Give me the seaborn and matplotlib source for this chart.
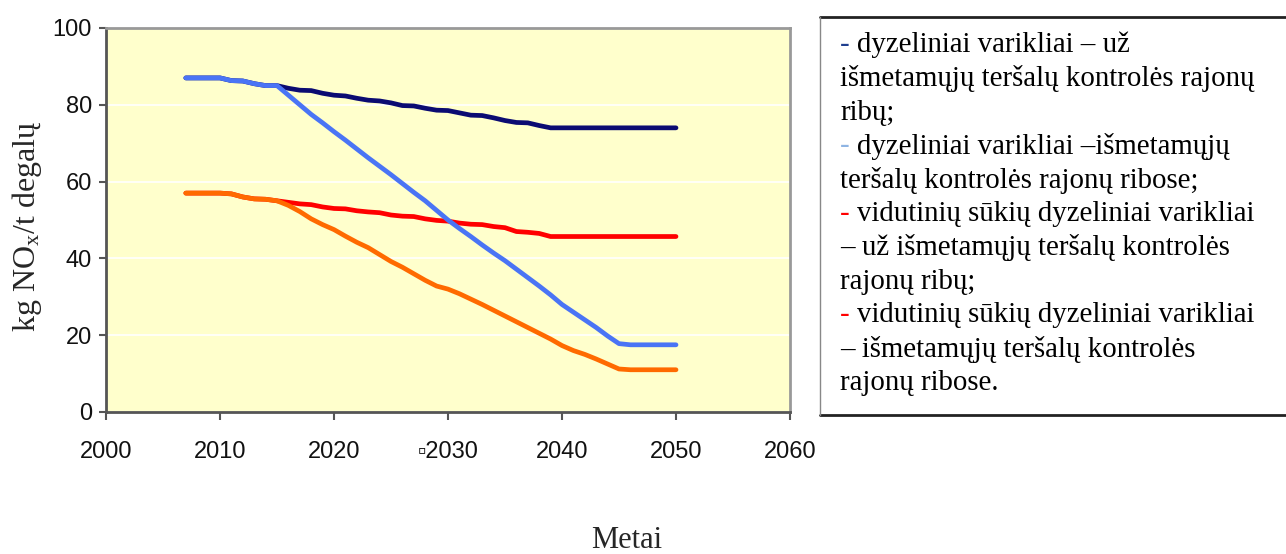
import numpy as np
import pandas as pd
import matplotlib
matplotlib.use("Agg")
import matplotlib.pyplot as plt
import seaborn as sns
from matplotlib.lines import Line2D

# ---------------- data ----------------
years = list(range(2007, 2051))

diesel_outside = [87, 87, 87, 87, 86.3, 86.2, 85.5, 85, 85, 84.3, 83.8, 83.7, 83, 82.5,
                  82.3, 81.7, 81.2, 81, 80.5, 79.8, 79.7, 79.1, 78.6, 78.5, 77.9, 77.3,
                  77.2, 76.6, 75.9, 75.4, 75.3, 74.6, 74] + [74] * 11
diesel_inside = [87, 87, 87, 87, 86.3, 86.2, 85.5, 85, 85, 82.5, 80, 77.5, 75.3, 73,
                 70.8, 68.5, 66.2, 64, 61.8, 59.5, 57.2, 55, 52.5, 50, 47.8, 45.7, 43.5,
                 41.4, 39.4, 37.2, 35, 32.8, 30.5, 28, 26, 24, 22, 19.8, 17.8] + [17.5] * 5
medium_outside = [57, 57, 57, 57, 56.8, 56, 55.5, 55.4, 55, 54.6, 54.2, 54, 53.4, 53,
                  52.9, 52.4, 52.1, 51.9, 51.3, 51, 50.9, 50.3, 49.9, 49.7, 49.2, 48.9,
                  48.8, 48.3, 48, 47.0, 46.8, 46.5, 45.7] + [45.7] * 11
medium_inside = [57, 57, 57, 57, 56.8, 56, 55.5, 55.4, 55, 53.8, 52.2, 50.3, 48.8, 47.5,
                 45.8, 44.2, 42.8, 41, 39.2, 37.7, 36, 34.3, 32.8, 32, 30.8, 29.4, 28,
                 26.5, 25, 23.5, 22, 20.5, 19, 17.3, 16, 15, 13.8, 12.5, 11.2] + [11] * 5

series_names = ["diesel_outside", "medium_outside", "diesel_inside", "medium_inside"]
series_vals = [diesel_outside, medium_outside, diesel_inside, medium_inside]
series_colors = ["#0B0B72", "#FF0000", "#4A74F5", "#FF6A00"]

x_ticks = [2000, 2010, 2020, 2030, 2040, 2050, 2060]
x_tick_labels = ["2000", "2010", "2020", "\u25ab2030", "2040", "2050", "2060"]
y_ticks = [0, 20, 40, 60, 80, 100]

y_label = "kg NO$_{\\mathrm{x}}$/t degalų"
x_label = "Metai"

legend_lines = [
    ("- ", "#1F3F8F", "dyzeliniai varikliai – už"),
    ("", None, "išmetamųjų teršalų kontrolės rajonų"),
    ("", None, "ribų;"),
    ("- ", "#8EB4E3", "dyzeliniai varikliai –išmetamųjų"),
    ("", None, "teršalų kontrolės rajonų ribose;"),
    ("- ", "#FF0000", "vidutinių sūkių dyzeliniai varikliai"),
    ("", None, "– už išmetamųjų teršalų kontrolės"),
    ("", None, "rajonų ribų;"),
    ("- ", "#FF0000", "vidutinių sūkių dyzeliniai varikliai"),
    ("", None, "– išmetamųjų teršalų kontrolės"),
    ("", None, "rajonų ribose."),
]

# ---------------- figure ----------------
sns.set_style("white")
plt.rcParams["font.family"] = ["Liberation Sans", "DejaVu Sans"]
plt.rcParams["mathtext.fontset"] = "custom"
plt.rcParams["mathtext.rm"] = "Liberation Serif"
plt.rcParams["mathtext.it"] = "Liberation Serif:italic"

W, H = 1286, 554
fig = plt.figure(figsize=(W / 100, H / 100), dpi=100)
ax = fig.add_axes([106 / W, 1 - 412 / H, (790 - 106) / W, (412 - 28) / H])
ax.set_facecolor("#FFFFCC")

df = pd.concat([pd.DataFrame({"year": years, "value": v, "series": n})
                for n, v in zip(series_names, series_vals)], ignore_index=True)
sns.lineplot(data=df, x="year", y="value", hue="series", hue_order=series_names,
             palette=dict(zip(series_names, series_colors)), linewidth=3.4,
             legend=False, ax=ax, solid_capstyle="round")

ax.set_xlim(2000, 2060)
ax.set_ylim(0, 100)
ax.set_xticks(x_ticks)
ax.set_xticklabels(x_tick_labels)
ax.set_yticks(y_ticks)
ax.set_xlabel("")
ax.set_ylabel("")
ax.yaxis.grid(True, color="white", linewidth=1.2)
ax.xaxis.grid(False)
ax.set_axisbelow(True)

for side in ["left", "bottom"]:
    ax.spines[side].set_color("#555555")
    ax.spines[side].set_linewidth(2)
for side in ["top", "right"]:
    ax.spines[side].set_color("#999999")
    ax.spines[side].set_linewidth(2)
    ax.spines[side].set_visible(True)

ax.tick_params(axis="x", direction="out", length=6, width=1.5, color="#555555",
               pad=15, labelsize=17, bottom=True)
ax.tick_params(axis="y", direction="out", length=5, width=1.5, color="#555555",
               pad=5, labelsize=17, left=True)
for lab in ax.get_xticklabels() + ax.get_yticklabels():
    lab.set_color("#111111")

fig.text(27 / W, 1 - 226 / H, y_label, rotation=90, ha="center", va="center",
         family="Liberation Serif", fontsize=23)
fig.text(627 / W, 1 - 540 / H, x_label, ha="center", va="center",
         family="Liberation Serif", fontsize=22)

# ---------------- legend box ----------------
bx0, bx1, by0, by1 = 820, 1286, 17, 415
fig.add_artist(Line2D([bx0 / W, bx1 / W], [1 - by0 / H, 1 - by0 / H], color="#222222", lw=2))
fig.add_artist(Line2D([bx0 / W, bx1 / W], [1 - by1 / H, 1 - by1 / H], color="#222222", lw=2))
fig.add_artist(Line2D([bx0 / W, bx0 / W], [1 - by0 / H, 1 - by1 / H], color="#888888", lw=1))

line_y0 = 45
line_step = 33.8
for i, (dash, dcol, txt) in enumerate(legend_lines):
    yy = 1 - (line_y0 + i * line_step) / H
    if dash:
        t = fig.text(840 / W, yy, dash, color=dcol, ha="left", va="center",
                     family="Liberation Serif", fontsize=20.8)
        ax.annotate(txt, xy=(1, 0.5), xycoords=t, xytext=(0, 0),
                    textcoords="offset points", ha="left", va="center",
                    family="Liberation Serif", fontsize=20.8, color="black",
                    annotation_clip=False)
    else:
        fig.text(840 / W, yy, txt, color="black", ha="left", va="center",
                 family="Liberation Serif", fontsize=20.8)

fig.savefig("out.png", dpi=100)
